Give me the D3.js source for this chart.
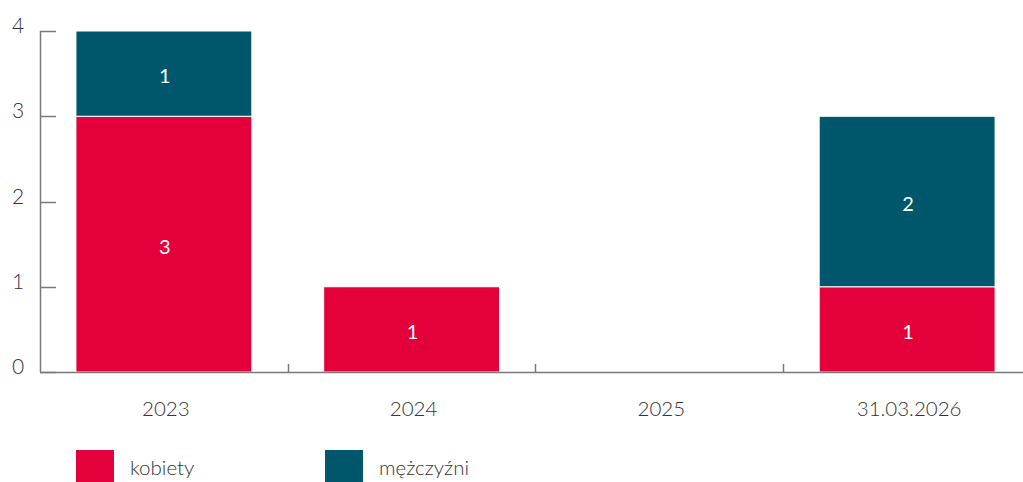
<!DOCTYPE html>
<html><head><meta charset="utf-8">
<script src="https://cdn.jsdelivr.net/npm/d3@7"></script>
<style>
body{margin:0;background:#fff;}
svg text{font-family:Lato,"Open Sans",sans-serif;}
</style></head>
<body><svg id="c" width="1023" height="482"></svg>
<script>
const categories = ["2023","2024","2025","31.03.2026"];
const kobiety = [3,1,0,1];
const mezczyzni = [1,0,0,2];
const seriesNames = ["kobiety","mężczyźni"];
const seriesColors = ["#E4003A","#00566A"];
const yTicks = [0,1,2,3,4];

const svg = d3.select("#c");
const x = d3.scaleBand().domain(categories).range([40,1031]).paddingInner(0.29).paddingOuter(0.145);
const y = d3.scaleLinear().domain([0,4]).range([372,31]);

const data = categories.map((c,i)=>({cat:c,kobiety:kobiety[i],"mężczyźni":mezczyzni[i]}));
const stack = d3.stack().keys(seriesNames)(data);

const g = svg.append("g");
stack.forEach((s,si)=>{
  g.selectAll(null).data(s.filter(d=>d[1]-d[0]>0)).enter().append("rect")
    .attr("x",d=>x(d.data.cat)).attr("width",x.bandwidth())
    .attr("y",d=>y(d[1])).attr("height",d=>y(d[0])-y(d[1]))
    .attr("fill",seriesColors[si]).attr("stroke","#fff").attr("stroke-width",1);
  g.selectAll(null).data(s.filter(d=>d[1]-d[0]>0)).enter().append("text")
    .attr("x",d=>x(d.data.cat)+x.bandwidth()/2+1).attr("y",d=>(y(d[0])+y(d[1]))/2)
    .attr("dy","0.48em").attr("text-anchor","middle").attr("fill","#fff")
    .attr("font-size",20).attr("font-weight",400).text(d=>d[1]-d[0]);
});

// y axis
const ya = svg.append("g");
ya.append("line").attr("x1",40.5).attr("x2",40.5).attr("y1",y(4)).attr("y2",y(0)).attr("stroke","#7a7a7a").attr("stroke-width",1.5);
ya.selectAll(null).data(yTicks).enter().append("line")
  .attr("x1",40).attr("x2",56).attr("y1",d=>Math.round(y(d))+0.5).attr("y2",d=>Math.round(y(d))+0.5)
  .attr("stroke","#7a7a7a").attr("stroke-width",1.5);
ya.selectAll(null).data(yTicks).enter().append("text")
  .attr("x",18).attr("y",d=>y(d)+2).attr("text-anchor","middle")
  .attr("font-size",21).attr("fill","#333").attr("font-weight",300).text(d=>d);

// x axis
const xa = svg.append("g");
xa.append("line").attr("x1",40).attr("x2",1023).attr("y1",372.5).attr("y2",372.5).attr("stroke","#7a7a7a").attr("stroke-width",1.5);
const step = x.step();
xa.selectAll(null).data(categories.slice(1)).enter().append("line")
  .attr("x1",d=>Math.round(x(d)-x.paddingInner()*step/2)+0.5).attr("x2",d=>Math.round(x(d)-x.paddingInner()*step/2)+0.5)
  .attr("y1",364).attr("y2",372).attr("stroke","#7a7a7a").attr("stroke-width",1.5);
xa.selectAll(null).data(categories).enter().append("text")
  .attr("x",d=>x(d)+x.bandwidth()/2+2).attr("y",416).attr("text-anchor","middle")
  .attr("font-size",20.5).attr("fill","#333").attr("font-weight",300).text(d=>d);

// legend
const legX = [76,325];
const lg = svg.append("g");
seriesNames.forEach((n,i)=>{
  lg.append("rect").attr("x",legX[i]).attr("y",450).attr("width",38).attr("height",32).attr("fill",seriesColors[i]);
  lg.append("text").attr("x",legX[i]+54).attr("y",475).attr("font-size",20.5).attr("fill","#333").attr("font-weight",300).text(n);
});
</script></body></html>
